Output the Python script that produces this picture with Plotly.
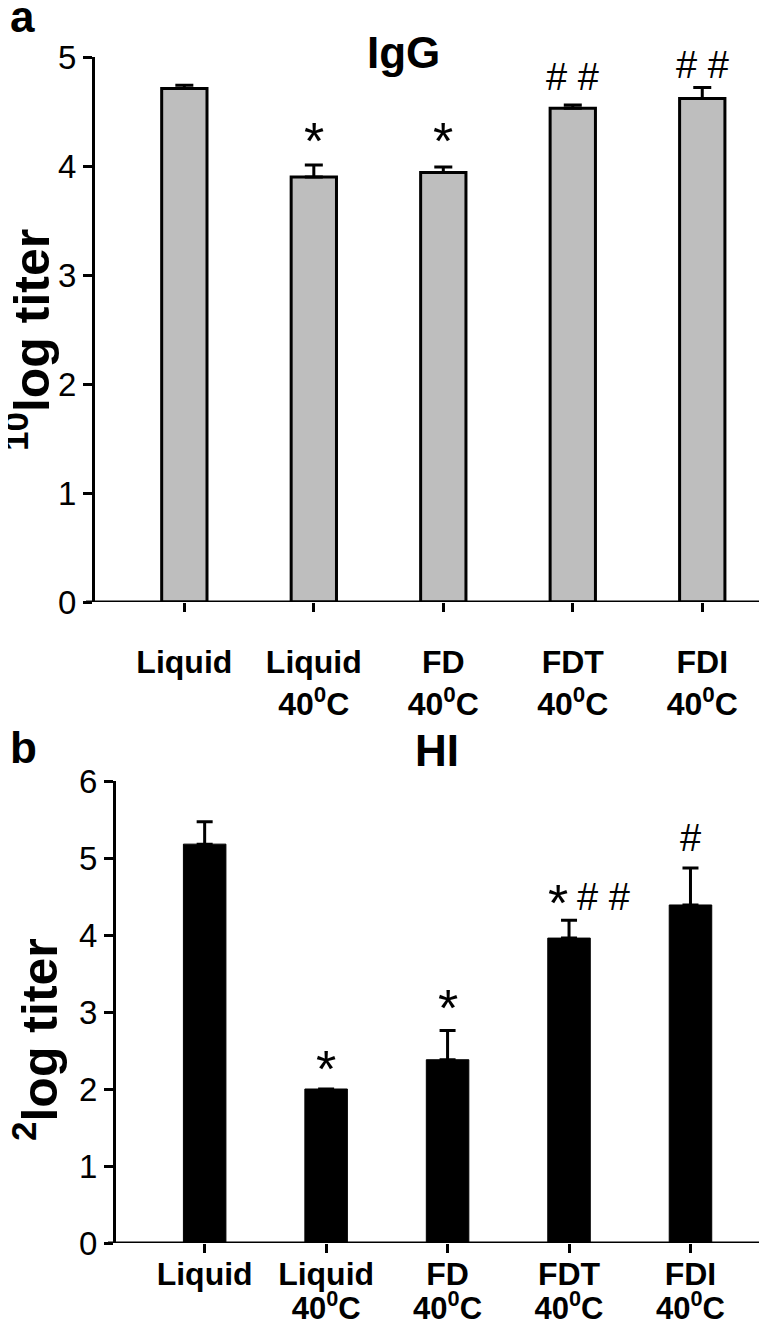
import plotly.graph_objects as go
from plotly.subplots import make_subplots

categories = ["Liquid", "Liquid<br>40<sup>0</sup>C", "FD<br>40<sup>0</sup>C",
              "FDT<br>40<sup>0</sup>C", "FDI<br>40<sup>0</sup>C"]
# panel b prints its two label lines more tightly, so they are split in two
label_line1 = ["Liquid", "Liquid", "FD", "FDT", "FDI"]
label_line2 = ["", "40<sup>0</sup>C", "40<sup>0</sup>C", "40<sup>0</sup>C", "40<sup>0</sup>C"]

igg_values = [4.71, 3.90, 3.94, 4.53, 4.62]
igg_errors = [0.03, 0.11, 0.05, 0.03, 0.10]
igg_marks = ["", "*", "*", "# #", "# #"]
igg_mark_y = [0, 4.28, 4.28, 4.82, 4.93]

hi_values = [5.18, 2.00, 2.38, 3.96, 4.39]
hi_errors = [0.29, 0.0, 0.38, 0.23, 0.48]
hi_marks = ["", "*", "*", "*# #", "#"]
hi_mark_y = [0, 2.34, 3.13, 4.49, 5.26]

# the page body adds an 8px margin, so the figure is drawn 8px in from the corner
OFF = 8
W, H = 767 - OFF, 1320 - OFF
FONT = "Liberation Sans, Arial, sans-serif"
STAR = 52
HASH = 38

def fx(px):
    return (px - OFF) / W

def fy(px):
    return 1 - (px - OFF) / H

fig = make_subplots(rows=2, cols=1)

fig.add_trace(go.Bar(
    x=categories, y=igg_values, width=0.35,
    marker=dict(color="#bebebe", line=dict(color="black", width=3)),
    error_y=dict(type="data", array=igg_errors, arrayminus=[0]*5, symmetric=False,
                 color="black", thickness=3, width=9),
    showlegend=False), row=1, col=1)

fig.add_trace(go.Bar(
    x=categories, y=hi_values, width=0.35,
    marker=dict(color="black", line=dict(color="black", width=1)),
    error_y=dict(type="data", array=hi_errors, arrayminus=[0]*5, symmetric=False,
                 color="black", thickness=3, width=8),
    showlegend=False), row=2, col=1)

# carrier for the second label line of panel b (draws nothing)
fig.add_trace(go.Scatter(x=list(range(len(hi_values))), y=hi_values, xaxis="x3", yaxis="y2",
                         mode="none", hoverinfo="skip", showlegend=False))

axis_common = dict(showgrid=False, zeroline=False, automargin=False, ticks="outside",
                   ticklen=9, tickwidth=3, tickcolor="black")

XR2 = [-0.73, 4.63]

fig.update_layout(
    width=W, height=H, margin=dict(l=0, r=0, t=0, b=0, autoexpand=False),
    plot_bgcolor="white", paper_bgcolor="white",
    font=dict(family=FONT, color="black"),
    xaxis=dict(domain=[fx(95), 1], range=[-0.69, 4.50], showline=False,
               tickfont=dict(size=32, family=FONT, weight="bold"),
               ticklabelstandoff=23, **axis_common),
    yaxis=dict(domain=[fy(602), fy(57)], range=[0, 5], dtick=1, showline=True,
               linewidth=3, linecolor="black", tickfont=dict(size=33, family=FONT),
               **axis_common),
    xaxis2=dict(domain=[fx(116), 1], range=XR2, showline=False,
                tickmode="array", tickvals=categories, ticktext=label_line1,
                tickfont=dict(size=32, family=FONT, weight="bold"),
                ticklabelstandoff=-6, **axis_common),
    xaxis3=dict(domain=[fx(116), 1], range=XR2, overlaying="x2", anchor="y2", side="bottom",
                type="linear", tickmode="array", tickvals=list(range(len(label_line2))),
                ticktext=label_line2, ticks="", showline=False, showgrid=False,
                zeroline=False, automargin=False,
                tickfont=dict(size=31, family=FONT, weight="bold"),
                ticklabelstandoff=44),
    yaxis2=dict(domain=[fy(1243), fy(781)], range=[0, 6], dtick=1, showline=True,
                linewidth=3, linecolor="black", tickfont=dict(size=33, family=FONT),
                **axis_common),
)

# x-axis baselines (extend slightly left of the y axis, as in the reference)
fig.add_shape(type="line", xref="x domain", yref="y", x0=-0.0134, x1=1, y0=0, y1=0,
              line=dict(color="black", width=3))
fig.add_shape(type="line", xref="x2 domain", yref="y2", x0=-0.0123, x1=1, y0=0, y1=0,
              line=dict(color="black", width=3))

def add_star(xv, yv, xref, yref, xshift=0):
    fig.add_annotation(x=xv, y=yv, xref=xref, yref=yref, text="*", showarrow=False,
                       font=dict(size=STAR, family=FONT), yanchor="middle", yshift=-6,
                       xshift=xshift)

def add_hash(txt, xv, yv, xref, yref, xanchor="center", xshift=0):
    fig.add_annotation(x=xv, y=yv, xref=xref, yref=yref, text=txt, showarrow=False,
                       font=dict(size=HASH, family=FONT), yanchor="middle",
                       xanchor=xanchor, xshift=xshift)

def add_mark(m, xv, yv, xref, yref):
    if m == "*":
        add_star(xv, yv, xref, yref)
    elif m.startswith("*"):
        add_star(xv, yv, xref, yref, xshift=-11)
        add_hash(m[1:], xv, yv, xref, yref, xanchor="left", xshift=6)
    else:
        add_hash(m, xv, yv, xref, yref)

for i, (m, yv) in enumerate(zip(igg_marks, igg_mark_y)):
    if m:
        add_mark(m, categories[i], yv, "x", "y")
for i, (m, yv) in enumerate(zip(hi_marks, hi_mark_y)):
    if m:
        add_mark(m, categories[i], yv, "x2", "y2")

# panel letters, titles, axis titles
fig.add_annotation(x=0, y=fy(17), xref="paper", yref="paper", text="<b>a</b>",
                   showarrow=False, xanchor="left", yanchor="middle", font=dict(size=44, family=FONT))
fig.add_annotation(x=fx(403), y=fy(52), xref="paper", yref="paper", text="<b>IgG</b>",
                   showarrow=False, xanchor="center", yanchor="middle", font=dict(size=44, family=FONT))
fig.add_annotation(x=0, y=fy(748), xref="paper", yref="paper", text="<b>b</b>",
                   showarrow=False, xanchor="left", yanchor="middle", font=dict(size=44, family=FONT))
fig.add_annotation(x=fx(437), y=fy(750), xref="paper", yref="paper", text="<b>HI</b>",
                   showarrow=False, xanchor="center", yanchor="middle", font=dict(size=44, family=FONT))
fig.add_annotation(x=fx(28), y=fy(340), xref="paper", yref="paper",
                   text="<b><sup>10</sup>log titer</b>", textangle=-90,
                   showarrow=False, xanchor="center", yanchor="middle", font=dict(size=50, family=FONT))
fig.add_annotation(x=fx(36), y=fy(1040), xref="paper", yref="paper",
                   text="<b><sup>2</sup>log titer</b>", textangle=-90,
                   showarrow=False, xanchor="center", yanchor="middle", font=dict(size=50, family=FONT))

fig.write_html("out.html")
